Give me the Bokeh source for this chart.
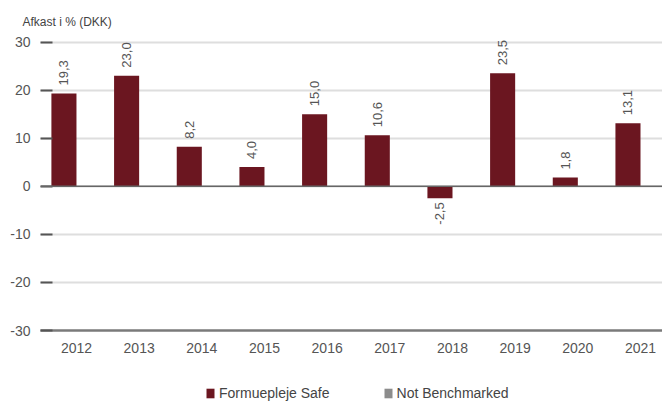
import math
from bokeh.plotting import figure
from bokeh.layouts import column
from bokeh.models import (ColumnDataSource, FixedTicker, Span, Legend, LegendItem,
                          Title, Range1d)
from bokeh.transform import dodge
from bokeh.core.properties import value
from bokeh.embed import file_html
from bokeh.resources import INLINE

# ---- data ----
years = [2012, 2013, 2014, 2015, 2016, 2017, 2018, 2019, 2020, 2021]
safe_returns = [19.3, 23.0, 8.2, 4.0, 15.0, 10.6, -2.5, 23.5, 1.8, 13.1]
# "Not Benchmarked": no values in any year
benchmark_returns = [None, None, None, None, None, None, None, None, None, None]
y_ticks = [-30, -20, -10, 0, 10, 20, 30]
y_tick_labels = ["-30", "-20", "-10", "0", "10", "20", "30"]
x_tick_labels = [str(y) for y in years]
y_title = "Afkast i % (DKK)"
series_names = ["Formuepleje Safe", "Not Benchmarked"]

BAR = "#6b1620"
GREY = "#8c8c8c"
TXT = "#555555"
FONT = "Liberation Sans"

labels = [f"{v:.1f}".replace(".", ",") for v in safe_returns]
aligns = ["left" if v >= 0 else "right" for v in safe_returns]
yoffs = [-8 if v >= 0 else 4 for v in safe_returns]

src = ColumnDataSource(dict(year=years, ret=safe_returns, lab=labels,
                            al=aligns, yo=yoffs))
bsrc = ColumnDataSource(dict(year=years, ret=benchmark_returns))

p = figure(width=662, height=362, output_backend="svg", toolbar_location=None,
           x_range=Range1d(2011.426, 2021.351), y_range=Range1d(-30, 32.4),
           min_border_left=40, min_border_right=0, min_border_top=30,
           min_border_bottom=32)
p.outline_line_color = None
p.background_fill_color = "white"
p.border_fill_color = "white"

p.title = Title(text=y_title, align="left", offset=-18, standoff=3,
                text_font_size="12px", text_font=FONT, text_color="#444444",
                text_font_style="normal")

r1 = p.vbar(x=dodge("year", -0.2), top="ret", bottom=0, width=0.4, source=src,
            fill_color=BAR, line_color=None)
r2 = p.vbar(x=dodge("year", 0.2), top="ret", bottom=0, width=0.4, source=bsrc,
            fill_color=GREY, line_color=None)

p.text(x=dodge("year", -0.2), y="ret", text="lab", source=src,
       angle=math.pi / 2, text_align="al", y_offset="yo",
       text_baseline="middle", text_font=value(FONT), text_font_size="13px",
       text_color=TXT)

p.add_layout(Span(location=0, dimension="width", line_color="#666666",
                  line_width=1.5))

# axes
p.yaxis.ticker = FixedTicker(ticks=y_ticks)
p.yaxis.major_label_overrides = dict(zip(y_ticks, y_tick_labels))
p.yaxis.axis_line_color = None
p.yaxis.major_tick_in = 12
p.yaxis.major_tick_out = 0
p.yaxis.major_tick_line_color = "#555555"
p.yaxis.major_tick_line_width = 2
p.yaxis.minor_tick_line_color = None
p.yaxis.major_label_standoff = 10
p.yaxis.major_label_text_font = FONT
p.yaxis.major_label_text_font_size = "14px"
p.yaxis.major_label_text_color = TXT

p.xaxis.ticker = FixedTicker(ticks=years)
p.xaxis.major_label_overrides = dict(zip(years, x_tick_labels))
p.xaxis.axis_line_color = "#7a7a7a"
p.xaxis.axis_line_width = 2.5
p.xaxis.major_tick_line_color = None
p.xaxis.minor_tick_line_color = None
p.xaxis.major_tick_out = 0
p.xaxis.major_label_standoff = 12
p.xaxis.major_label_text_font = FONT
p.xaxis.major_label_text_font_size = "14px"
p.xaxis.major_label_text_color = TXT

p.xgrid.grid_line_color = None
p.ygrid.grid_line_color = "#dedede"
p.ygrid.grid_line_width = 2

# ---- legend strip below the chart ----
lg = figure(width=662, height=39, output_backend="svg", toolbar_location=None,
            x_range=Range1d(0, 1), y_range=Range1d(100, 101),
            x_axis_location=None, y_axis_location=None,
            min_border_left=0, min_border_right=0, min_border_top=0,
            min_border_bottom=0)
lg.outline_line_color = None
lg.grid.visible = False
l1 = lg.vbar(x="year", top="ret", bottom=0, width=0.4, source=src,
             fill_color=BAR, line_color=None)
l2 = lg.vbar(x="year", top="ret", bottom=0, width=0.4, source=bsrc,
             fill_color=GREY, line_color=None)
legend = Legend(items=[LegendItem(label=value(series_names[0]), renderers=[l1]),
                       LegendItem(label=value(series_names[1]), renderers=[l2])],
                orientation="horizontal", location=(165, 0),
                padding=0, margin=0, spacing=53, label_standoff=4,
                glyph_width=10, glyph_height=12,
                label_text_font=FONT, label_text_font_size="14px",
                label_text_color="#444444", border_line_color=None,
                background_fill_alpha=0)
lg.add_layout(legend, "center")

layout = column(p, lg, spacing=0)
open("out.html", "w").write(file_html(layout, INLINE))
